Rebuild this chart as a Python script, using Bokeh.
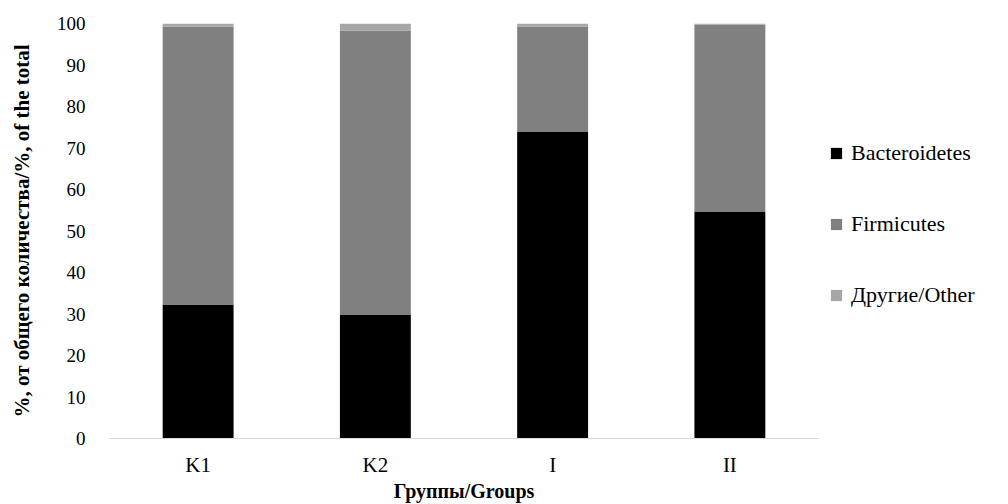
import math
from bokeh.plotting import figure
from bokeh.models import (FactorRange, Range1d, FixedTicker, Legend, LegendItem,
                          ColumnDataSource)
from bokeh.embed import file_html
from bokeh.resources import INLINE

groups = ["K1", "K2", "I", "II"]
series = ["Bacteroidetes", "Firmicutes", "Другие/Other"]
bacteroidetes = [32.3, 29.9, 74.0, 54.7]
firmicutes = [67.0, 68.4, 25.3, 45.0]
other = [0.7, 1.7, 0.7, 0.3]
colors = ["#000000", "#808080", "#a6a6a6"]
y_ticks = [0, 10, 20, 30, 40, 50, 60, 70, 80, 90, 100]

FONT = "Liberation Serif"

source = ColumnDataSource(dict(groups=groups, Bacteroidetes=bacteroidetes,
                               Firmicutes=firmicutes, Other=other))

p = figure(x_range=FactorRange(*groups), y_range=Range1d(0, 100),
           frame_width=709, frame_height=415, output_backend="svg", toolbar_location=None,
           title=None, min_border_left=109, min_border_right=174,
           min_border_top=23, min_border_bottom=0)

renderers = p.vbar_stack(["Bacteroidetes", "Firmicutes", "Other"], x="groups", width=0.40,
                         color=colors, line_color=None, source=source)

p.xgrid.grid_line_color = None
p.ygrid.grid_line_color = None
p.outline_line_color = None

# y axis
p.yaxis.ticker = FixedTicker(ticks=y_ticks)
p.yaxis.axis_line_color = None
p.yaxis.major_tick_line_color = None
p.yaxis.minor_tick_line_color = None
p.yaxis.major_tick_out = 0
p.yaxis.major_tick_in = 0
p.yaxis.major_label_standoff = 24
p.yaxis.major_label_text_font = FONT
p.yaxis.major_label_text_font_size = "19px"
p.yaxis.major_label_text_color = "#000000"
p.yaxis.axis_label = "%, от общего количества/%, of the total"
p.yaxis.axis_label_standoff = 20
p.yaxis.axis_label_text_font = FONT
p.yaxis.axis_label_text_font_style = "bold"
p.yaxis.axis_label_text_font_size = "21px"
p.yaxis.axis_label_text_color = "#000000"

# x axis
p.xaxis.axis_line_color = "#d9d9d9"
p.xaxis.axis_line_width = 1
p.xaxis.major_tick_line_color = None
p.xaxis.minor_tick_line_color = None
p.xaxis.major_tick_out = 0
p.xaxis.major_tick_in = 0
p.xaxis.major_label_standoff = 14
p.xaxis.major_label_text_font = FONT
p.xaxis.major_label_text_font_size = "21px"
p.xaxis.major_label_text_color = "#000000"
p.xaxis.axis_label = "Группы/Groups"
p.xaxis.axis_label_standoff = 0
p.xaxis.axis_label_text_font = FONT
p.xaxis.axis_label_text_font_style = "bold"
p.xaxis.axis_label_text_font_size = "20px"
p.xaxis.axis_label_text_color = "#000000"

legend = Legend(items=[LegendItem(label=s, renderers=[r]) for s, r in zip(series, renderers)],
                location=(11, 130), orientation="vertical",
                glyph_width=14, glyph_height=14, label_height=20, spacing=45,
                padding=0, margin=0, label_standoff=8,
                label_text_font_size="22px", label_text_color="#000000",
                border_line_color=None, background_fill_alpha=0)
legend.label_text_font = "'Liberation Serif', 'Times New Roman', serif"
legend.label_text_font_style = "normal"
p.add_layout(legend, "right")

open("out.html", "w").write(file_html(p, INLINE))
